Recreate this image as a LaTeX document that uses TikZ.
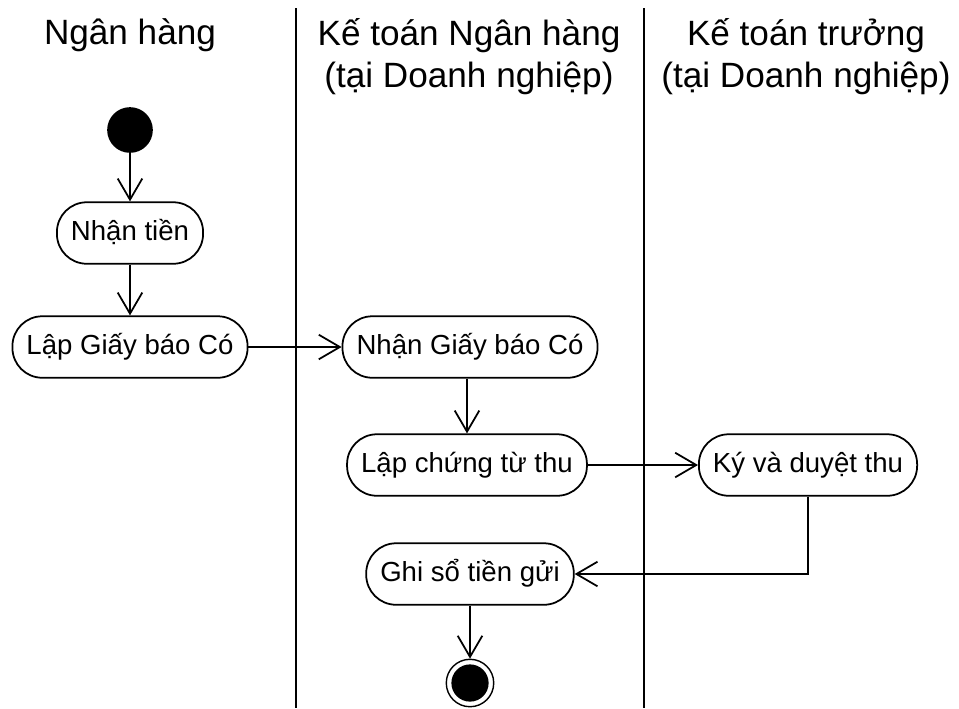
\documentclass[tikz,border=0pt]{standalone}
\usepackage{fontspec}
\setmainfont{Liberation Sans}
\usetikzlibrary{arrows.meta}

\tikzset{
	activity/.style={draw, line width=1pt, rectangle, rounded corners=17pt,
		minimum height=35pt, inner xsep=8pt, text height=11.5pt, text depth=3.5pt,
		font=\fontsize{15.7}{18}\selectfont},
	lane/.style={font=\fontsize{20}{24}\selectfont, align=center},
	startnode/.style={circle, fill=black, minimum size=26pt, inner sep=0pt},
	endnode/.style={circle, draw, line width=0.8pt, minimum size=27pt, inner sep=0pt,
		path picture={\fill (path picture bounding box.center) circle (10.6pt);}},
}

\begin{document}
\begin{tikzpicture}[x=0.02cm, y=-0.02cm, >={Straight Barb[length=12pt, width=14pt]}]
	\useasboundingbox (0,0) rectangle (959,708);
	
	\foreach \x in {296,644}
	\draw [line width=1pt] (\x,8) -- (\x,708);
	
	\foreach \t/\x [count=\i] in {Ngân hàng/130, Kế toán Ngân hàng\\(tại Doanh nghiệp)/469, Kế toán trưởng\\(tại Doanh nghiệp)/806}
	\node [lane, anchor=north] (lane-\i) at (\x,12) {\t};
	
	\node [startnode] (start) at (130,130) {};
	\node [activity] (nhantien) at (130,233) {Nhận tiền};
	\node [activity] (lapgiay) at (130,347) {Lập Giấy báo Có};
	\node [activity] (nhangiay) at (470,347) {Nhận Giấy báo Có};
	\node [activity] (lapchungtu) at (467,465) {Lập chứng từ thu};
	\node [activity] (kyduyet) at (808,465) {Ký và duyệt thu};
	\node [activity] (ghiso) at (470,574) {Ghi sổ tiền gửi};
	\node [endnode] (end) at (470,683) {};
	
	\draw [->, line width=1pt] (start) -- (nhantien);
	\draw [->, line width=1pt] (nhantien) -- (lapgiay);
	\draw [->, line width=1pt] (lapgiay) -- (nhangiay);
	\draw [->, line width=1pt] (nhangiay.south -| lapchungtu) -- (lapchungtu);
	\draw [->, line width=1pt] (lapchungtu) -- (kyduyet);
	\draw [->, line width=1pt] (kyduyet) |- (ghiso);
	\draw [->, line width=1pt] (ghiso) -- (end);
\end{tikzpicture}
\end{document}
